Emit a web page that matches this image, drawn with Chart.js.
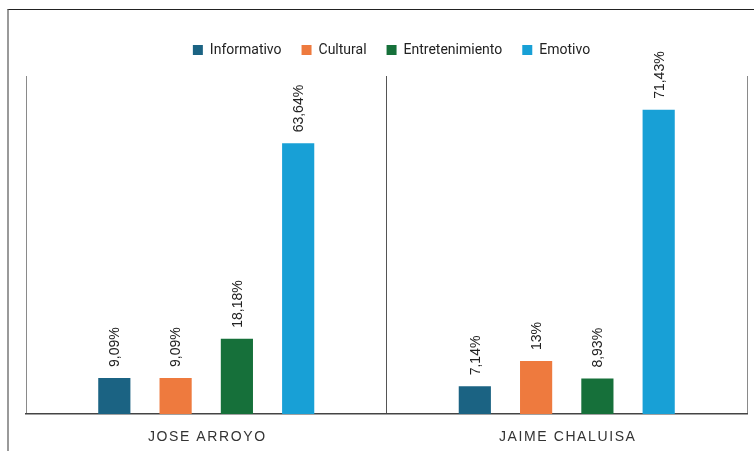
<!DOCTYPE html>
<html>
<head>
<meta charset="utf-8">
<script src="https://cdn.jsdelivr.net/npm/chart.js@4"></script>
<style>
html,body{margin:0;padding:0;background:#fff}
#wrap{position:relative;width:754px;height:451px;overflow:hidden}
#frame{position:absolute;left:7px;top:9px;right:0;bottom:0;border-top:1px solid #222;border-left:2px solid #9a9a9a}
canvas{position:absolute;left:0;top:0}
</style>
</head>
<body>
<div id="wrap"><div id="frame"></div><canvas id="c" width="754" height="451"></canvas></div>
<script>
// datos
const CATEGORIAS=['JOSE ARROYO','JAIME CHALUISA'];
const SERIES=['Informativo','Cultural','Entretenimiento','Emotivo'];
const COLORES=['#1b6383','#ee7a3e','#16703a','#18a0d6'];
const INFORMATIVO=[9.09,7.14];
const CULTURAL=[9.09,13];
const ENTRETENIMIENTO=[18.18,8.93];
const EMOTIVO=[63.64,71.43];
const ETIQUETAS=[['9,09%','7,14%'],['9,09%','13%'],['18,18%','8,93%'],['63,64%','71,43%']];

const VALORES=[INFORMATIVO,CULTURAL,ENTRETENIMIENTO,EMOTIVO];

// etiquetas giradas encima de cada barra
const rotLabels={
  id:'rotLabels',
  afterDatasetsDraw(chart){
    const ctx=chart.ctx;
    ctx.save();
    ctx.font='14px "Liberation Sans", Arial, sans-serif';
    ctx.fillStyle='#222';
    ctx.textAlign='left';ctx.textBaseline='middle';
    chart.data.datasets.forEach((ds,i)=>{
      chart.getDatasetMeta(i).data.forEach((bar,j)=>{
        ctx.save();
        ctx.translate(bar.x+1,bar.y-11);
        ctx.rotate(-Math.PI/2);
        ctx.fillText(ETIQUETAS[i][j],0,0);
        ctx.restore();
      });
    });
    ctx.restore();
  }
};

// nombres de categoria con espaciado entre letras
const catLabels={
  id:'catLabels',
  afterDraw(chart){
    const ctx=chart.ctx,x=chart.scales.x;
    ctx.save();
    ctx.font='14px "Liberation Sans", Arial, sans-serif';
    ctx.fillStyle='#333';
    ctx.textAlign='center';ctx.textBaseline='middle';
    ctx.letterSpacing='1.6px';
    CATEGORIAS.forEach((c,j)=>ctx.fillText(c,x.getPixelForValue(j)+1,437));
    ctx.restore();
  }
};

// espacio extra bajo la leyenda y pequeño corrimiento a la derecha
const legendGap={
  id:'legendGap',
  beforeLayout(chart){
    const lg=chart.legend;
    if(!lg||lg._gapPatched)return;
    const fit=lg.fit,draw=lg.draw;
    lg.fit=function(){fit.call(this);this.height+=9;};
    lg.draw=function(){const c=this.ctx;c.save();c.translate(5,0);draw.call(this);c.restore();};
    lg._gapPatched=true;
  }
};

new Chart(document.getElementById('c'),{
  type:'bar',
  data:{
    labels:CATEGORIAS,
    datasets:SERIES.map((s,i)=>({label:s,data:VALORES[i],backgroundColor:COLORES[i],borderWidth:0,barPercentage:0.525,categoryPercentage:0.68}))
  },
  options:{
    responsive:false,animation:false,devicePixelRatio:1,
    layout:{padding:{left:26,right:7,top:23,bottom:37}},
    plugins:{
      legend:{position:'top',labels:{font:{family:'Roboto',size:14},color:'#222',boxWidth:10,boxHeight:10,padding:20}},
      tooltip:{enabled:false}
    },
    scales:{
      x:{
        grid:{offset:true,drawTicks:false,color:c=>c.index===1?'#555':'#8a8a8a',lineWidth:1},
        border:{display:true,color:'#444',width:1.5},
        ticks:{display:false}
      },
      y:{display:false,min:0.7,max:79.3}
    }
  },
  plugins:[rotLabels,catLabels,legendGap]
});
</script>
</body>
</html>
